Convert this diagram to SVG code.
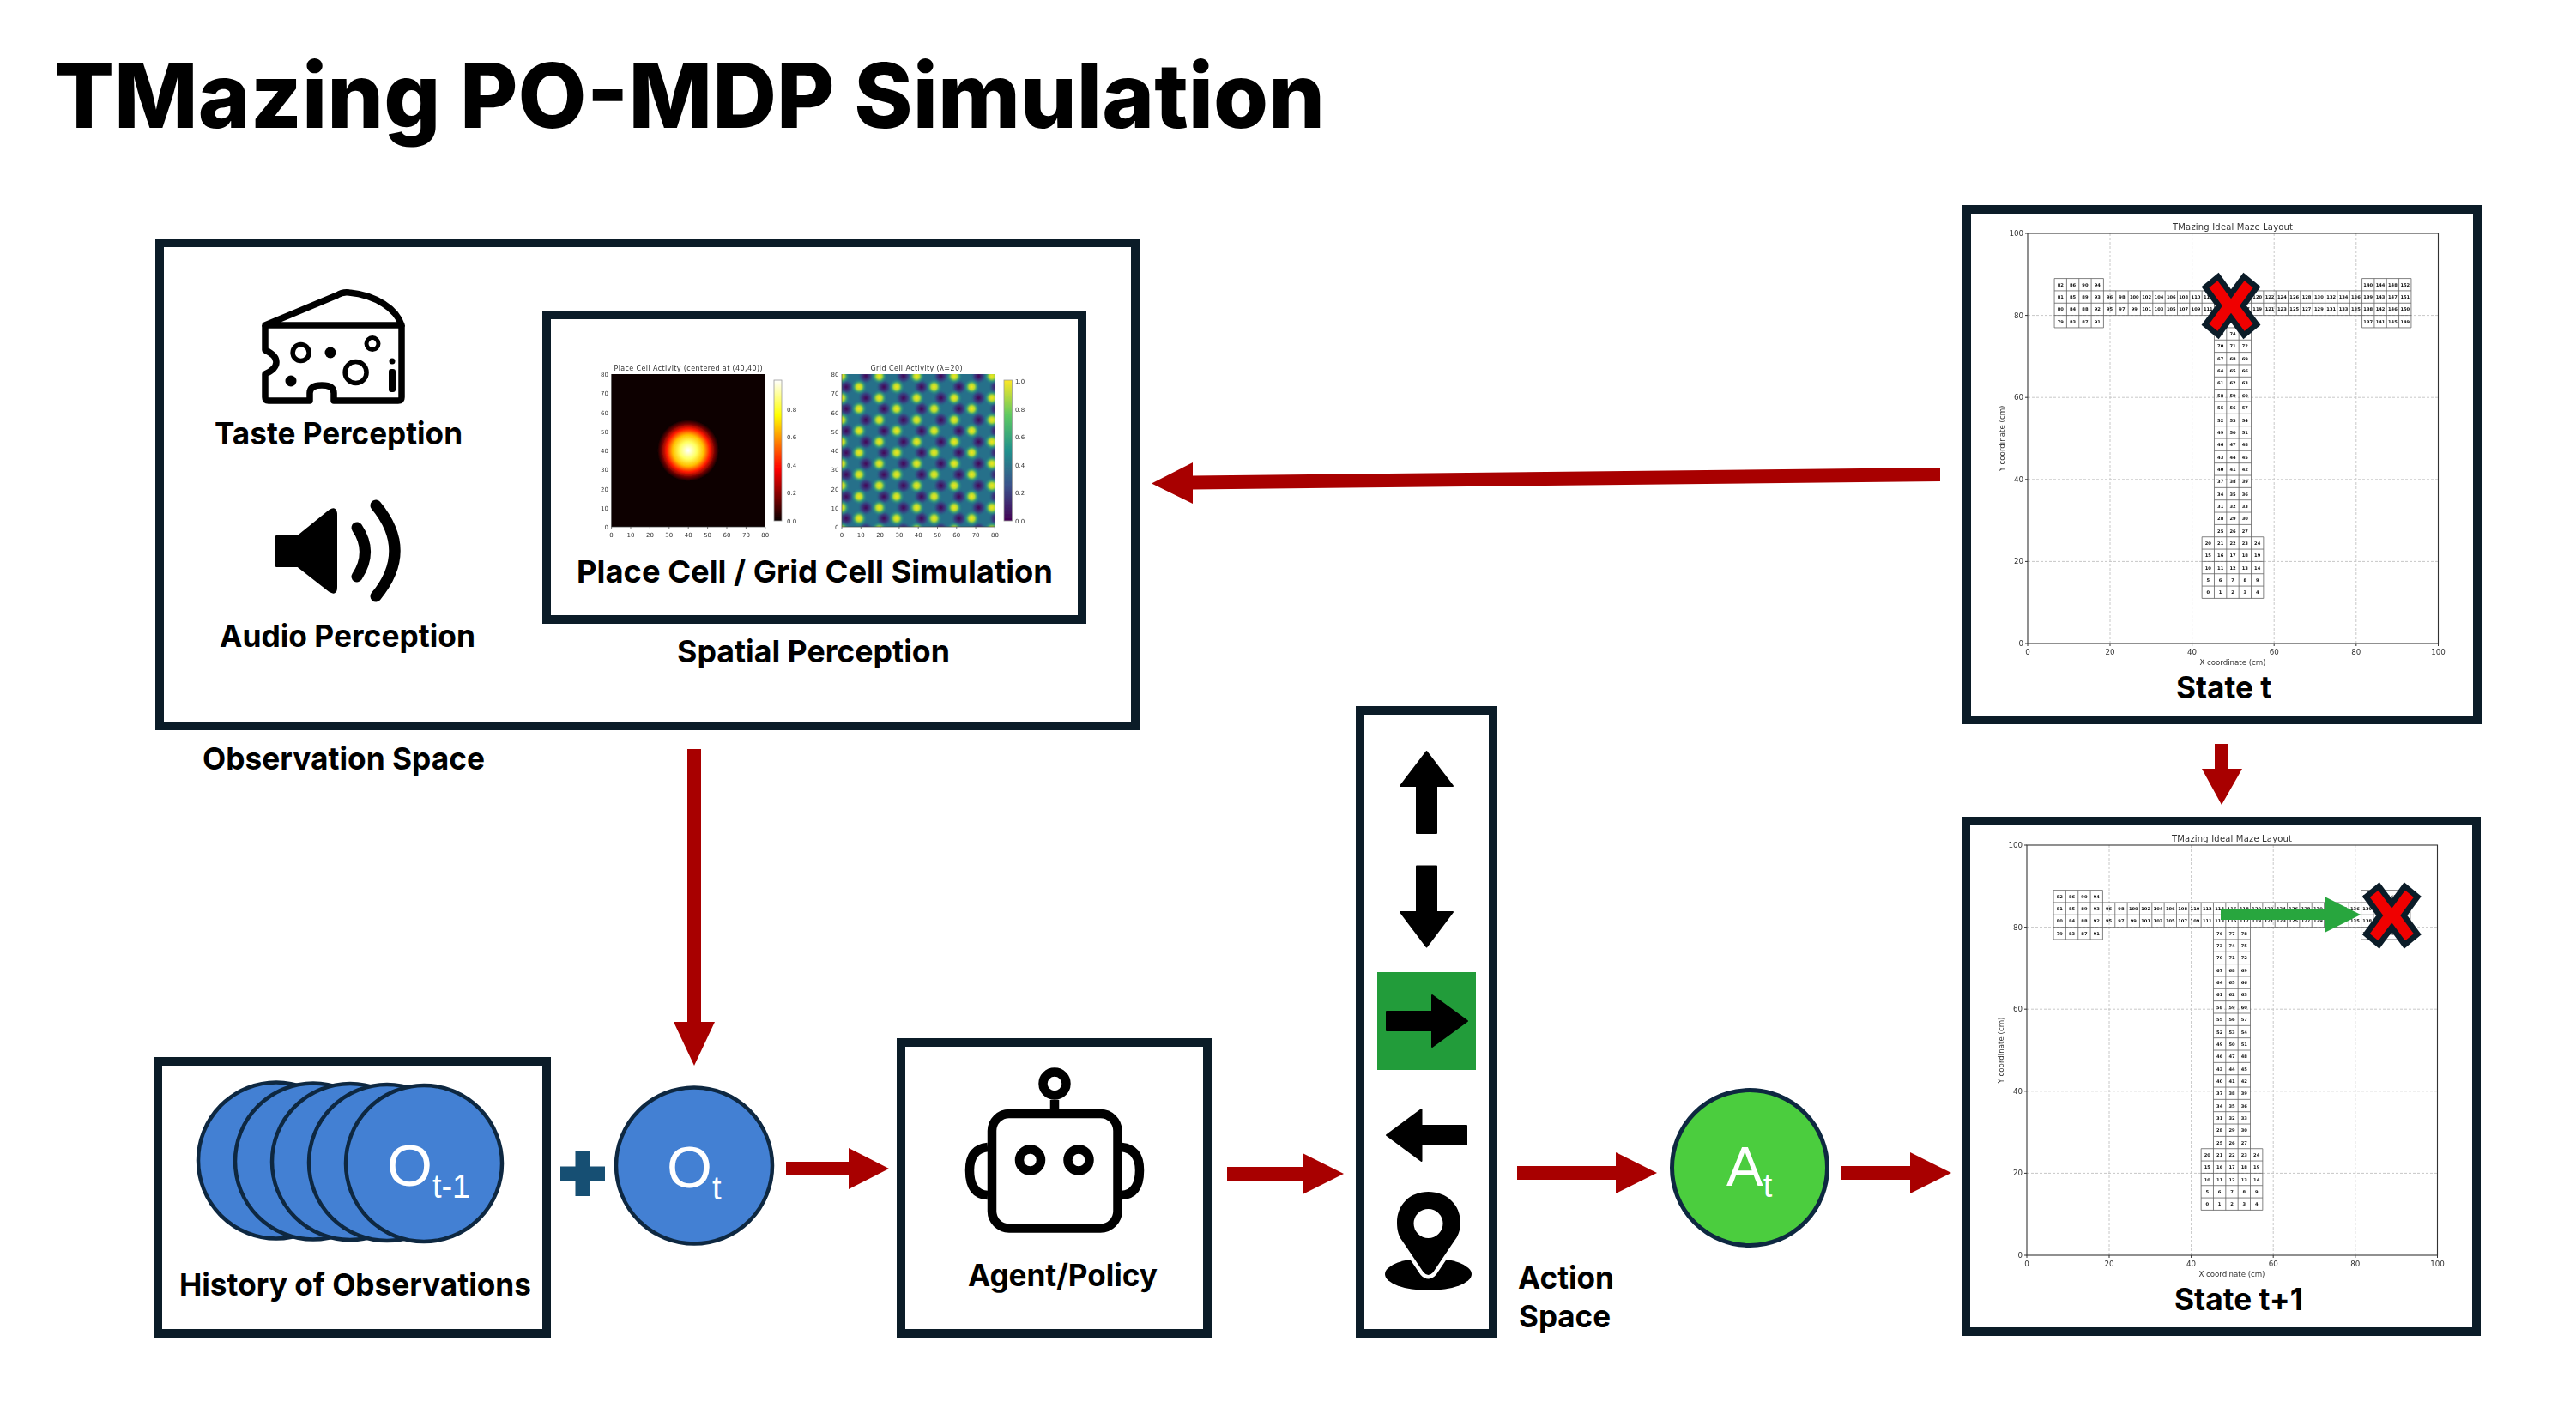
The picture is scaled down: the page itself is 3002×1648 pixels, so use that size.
<svg xmlns="http://www.w3.org/2000/svg" xmlns:xlink="http://www.w3.org/1999/xlink" width="3002" height="1648" viewBox="0 0 3002 1648">
<style>
text{font-family:"Inter","Liberation Sans",sans-serif;fill:#000}
.lbl{font-weight:700;font-size:36px}
.box{fill:#fff;stroke:#0b1c28;stroke-width:10}
.big{fill:#fff;font-family:"Liberation Sans",Arial,sans-serif;font-size:68px}
.obs{fill:#4380d3;stroke:#0e2841;stroke-width:4.5}
.con{fill:#a80000}
.xm{fill:#f00000;stroke:#0b1c28;stroke-width:6.5;stroke-linejoin:miter}
.icon{fill:#000;stroke:#000;stroke-width:2;stroke-linejoin:round}
.rob{fill:none;stroke:#000;stroke-width:10.5}
.t7 text{font-family:"DejaVu Sans",sans-serif;font-size:7px;fill:#333}
.t9 text{font-family:"DejaVu Sans",sans-serif;font-size:8.7px;fill:#333}
.cell text{font-family:"DejaVu Sans",sans-serif;font-weight:700;font-size:1.08px;text-anchor:middle;dominant-baseline:central;fill:#111}
.s{text-anchor:end}.m{text-anchor:middle}
</style>
<defs>
<filter id="soft" x="-5%" y="-5%" width="110%" height="110%"><feGaussianBlur stdDeviation="0.45"/></filter>
<radialGradient id="hotspot"><stop offset="0" stop-color="#fff"/><stop offset=".28" stop-color="#ffff60"/><stop offset=".5" stop-color="#ffc000"/><stop offset=".7" stop-color="#ff1800"/><stop offset=".88" stop-color="#600000"/><stop offset="1" stop-color="#0a0000"/></radialGradient>
<linearGradient id="hotbar" x1="0" y1="1" x2="0" y2="0"><stop offset="0" stop-color="#0a0000"/><stop offset=".37" stop-color="#ff0000"/><stop offset=".75" stop-color="#ffff00"/><stop offset="1" stop-color="#fff"/></linearGradient>
<linearGradient id="virbar" x1="0" y1="1" x2="0" y2="0"><stop offset="0" stop-color="#440154"/><stop offset=".25" stop-color="#3b528b"/><stop offset=".5" stop-color="#21918c"/><stop offset=".75" stop-color="#5ec962"/><stop offset="1" stop-color="#fde725"/></linearGradient>
<radialGradient id="bright"><stop offset="0" stop-color="#f5e51f"/><stop offset=".35" stop-color="#b5dc30"/><stop offset=".65" stop-color="#35a078" stop-opacity=".75"/><stop offset="1" stop-color="#26708a" stop-opacity="0"/></radialGradient>
<radialGradient id="dark"><stop offset="0" stop-color="#440154"/><stop offset=".55" stop-color="#3a3a80" stop-opacity=".85"/><stop offset="1" stop-color="#26708a" stop-opacity="0"/></radialGradient>
<pattern id="gridcells" patternUnits="userSpaceOnUse" x="980.7" y="438.3" width="43.8" height="25.55">
<rect width="43.8" height="25.55" fill="#26708a"/>
<circle cx="28.3" cy="0" r="9.500" fill="url(#dark)"/><circle cx="28.3" cy="25.55" r="9.500" fill="url(#dark)"/>
<circle cx="5.5" cy="12.7" r="9.500" fill="url(#dark)"/><circle cx="49.3" cy="12.7" r="9.500" fill="url(#dark)"/>
<circle cx="0" cy="0" r="9.500" fill="url(#bright)"/><circle cx="43.8" cy="0" r="9.500" fill="url(#bright)"/><circle cx="0" cy="25.55" r="9.500" fill="url(#bright)"/><circle cx="43.8" cy="25.55" r="9.500" fill="url(#bright)"/>
<circle cx="20.3" cy="12.6" r="9.500" fill="url(#bright)"/>
</pattern>
<polygon id="cross" class="xm" points="-30,-21.7 -15,-34 0,-13.7 15,-34 30,-21.7 14,0 30,21.7 15,34 0,13.7 -15,34 -30,21.7 -14,0"/>
<g id="mazePlot" filter="url(#soft)">
<path d="M2459 272V750M2554.6 272V750M2650.2 272V750M2745.8 272V750M2363 654.4H2841.5M2363 558.8H2841.5M2363 463.2H2841.5M2363 367.6H2841.5" fill="none" stroke="#c8c8c8" stroke-width="1" stroke-dasharray="3 2"/>
<g class="cell" transform="translate(2363 750) scale(4.78)">
<path fill="none" stroke="#666" stroke-width=".17" d="M42.5-11H57.5M42.5-14H57.5M42.5-17H57.5M42.5-20H57.5M42.5-23H57.5M42.5-26H57.5M42.5-11V-26M45.5-11V-80M48.5-11V-80M51.5-11V-80M54.5-11V-80M57.5-11V-26M45.5-29H54.5M45.5-32H54.5M45.5-35H54.5M45.5-38H54.5M45.5-41H54.5M45.5-44H54.5M45.5-47H54.5M45.5-50H54.5M45.5-53H54.5M45.5-56H54.5M45.5-59H54.5M45.5-62H54.5M45.5-65H54.5M45.5-68H54.5M45.5-71H54.5M45.5-74H54.5M45.5-77H54.5M6.5-80H93.5M6.5-83H93.5M6.5-86H93.5M6.5-77H18.5M6.5-89H18.5M81.5-77H93.5M81.5-89H93.5M6.5-77V-89M9.5-77V-89M12.5-77V-89M15.5-77V-89M18.5-77V-89M81.5-77V-89M84.5-77V-89M87.5-77V-89M90.5-77V-89M93.5-77V-89M21.5-80V-86M24.5-80V-86M27.5-80V-86M30.5-80V-86M33.5-80V-86M36.5-80V-86M39.5-80V-86M42.5-80V-86M45.5-80V-86M48.5-80V-86M51.5-80V-86M54.5-80V-86M57.5-80V-86M60.5-80V-86M63.5-80V-86M66.5-80V-86M69.5-80V-86M72.5-80V-86M75.5-80V-86M78.5-80V-86"/>
<text x="44" y="-12.5">0</text><text x="47" y="-12.5">1</text><text x="50" y="-12.5">2</text><text x="53" y="-12.5">3</text><text x="56" y="-12.5">4</text>
<text x="44" y="-15.5">5</text><text x="47" y="-15.5">6</text><text x="50" y="-15.5">7</text><text x="53" y="-15.5">8</text><text x="56" y="-15.5">9</text>
<text x="44" y="-18.5">10</text><text x="47" y="-18.5">11</text><text x="50" y="-18.5">12</text><text x="53" y="-18.5">13</text><text x="56" y="-18.5">14</text>
<text x="44" y="-21.5">15</text><text x="47" y="-21.5">16</text><text x="50" y="-21.5">17</text><text x="53" y="-21.5">18</text><text x="56" y="-21.5">19</text>
<text x="44" y="-24.5">20</text><text x="47" y="-24.5">21</text><text x="50" y="-24.5">22</text><text x="53" y="-24.5">23</text><text x="56" y="-24.5">24</text>
<text x="47" y="-27.5">25</text><text x="50" y="-27.5">26</text><text x="53" y="-27.5">27</text>
<text x="47" y="-30.5">28</text><text x="50" y="-30.5">29</text><text x="53" y="-30.5">30</text>
<text x="47" y="-33.5">31</text><text x="50" y="-33.5">32</text><text x="53" y="-33.5">33</text>
<text x="47" y="-36.5">34</text><text x="50" y="-36.5">35</text><text x="53" y="-36.5">36</text>
<text x="47" y="-39.5">37</text><text x="50" y="-39.5">38</text><text x="53" y="-39.5">39</text>
<text x="47" y="-42.5">40</text><text x="50" y="-42.5">41</text><text x="53" y="-42.5">42</text>
<text x="47" y="-45.5">43</text><text x="50" y="-45.5">44</text><text x="53" y="-45.5">45</text>
<text x="47" y="-48.5">46</text><text x="50" y="-48.5">47</text><text x="53" y="-48.5">48</text>
<text x="47" y="-51.5">49</text><text x="50" y="-51.5">50</text><text x="53" y="-51.5">51</text>
<text x="47" y="-54.5">52</text><text x="50" y="-54.5">53</text><text x="53" y="-54.5">54</text>
<text x="47" y="-57.5">55</text><text x="50" y="-57.5">56</text><text x="53" y="-57.5">57</text>
<text x="47" y="-60.5">58</text><text x="50" y="-60.5">59</text><text x="53" y="-60.5">60</text>
<text x="47" y="-63.5">61</text><text x="50" y="-63.5">62</text><text x="53" y="-63.5">63</text>
<text x="47" y="-66.5">64</text><text x="50" y="-66.5">65</text><text x="53" y="-66.5">66</text>
<text x="47" y="-69.5">67</text><text x="50" y="-69.5">68</text><text x="53" y="-69.5">69</text>
<text x="47" y="-72.5">70</text><text x="50" y="-72.5">71</text><text x="53" y="-72.5">72</text>
<text x="47" y="-75.5">73</text><text x="50" y="-75.5">74</text><text x="53" y="-75.5">75</text>
<text x="47" y="-78.5">76</text><text x="50" y="-78.5">77</text><text x="53" y="-78.5">78</text>
<text x="8" y="-78.5">79</text><text x="8" y="-81.5">80</text><text x="8" y="-84.5">81</text><text x="8" y="-87.5">82</text>
<text x="11" y="-78.5">83</text><text x="11" y="-81.5">84</text><text x="11" y="-84.5">85</text><text x="11" y="-87.5">86</text>
<text x="14" y="-78.5">87</text><text x="14" y="-81.5">88</text><text x="14" y="-84.5">89</text><text x="14" y="-87.5">90</text>
<text x="17" y="-78.5">91</text><text x="17" y="-81.5">92</text><text x="17" y="-84.5">93</text><text x="17" y="-87.5">94</text>
<text x="20" y="-81.5">95</text><text x="20" y="-84.5">96</text><text x="23" y="-81.5">97</text><text x="23" y="-84.5">98</text>
<text x="26" y="-81.5">99</text><text x="26" y="-84.5">100</text><text x="29" y="-81.5">101</text><text x="29" y="-84.5">102</text>
<text x="32" y="-81.5">103</text><text x="32" y="-84.5">104</text><text x="35" y="-81.5">105</text><text x="35" y="-84.5">106</text>
<text x="38" y="-81.5">107</text><text x="38" y="-84.5">108</text><text x="41" y="-81.5">109</text><text x="41" y="-84.5">110</text>
<text x="44" y="-81.5">111</text><text x="44" y="-84.5">112</text><text x="47" y="-81.5">113</text><text x="47" y="-84.5">114</text>
<text x="50" y="-81.5">115</text><text x="50" y="-84.5">116</text><text x="53" y="-81.5">117</text><text x="53" y="-84.5">118</text>
<text x="56" y="-81.5">119</text><text x="56" y="-84.5">120</text><text x="59" y="-81.5">121</text><text x="59" y="-84.5">122</text>
<text x="62" y="-81.5">123</text><text x="62" y="-84.5">124</text><text x="65" y="-81.5">125</text><text x="65" y="-84.5">126</text>
<text x="68" y="-81.5">127</text><text x="68" y="-84.5">128</text><text x="71" y="-81.5">129</text><text x="71" y="-84.5">130</text>
<text x="74" y="-81.5">131</text><text x="74" y="-84.5">132</text><text x="77" y="-81.5">133</text><text x="77" y="-84.5">134</text>
<text x="80" y="-81.5">135</text><text x="80" y="-84.5">136</text>
<text x="83" y="-78.5">137</text><text x="83" y="-81.5">138</text><text x="83" y="-84.5">139</text><text x="83" y="-87.5">140</text>
<text x="86" y="-78.5">141</text><text x="86" y="-81.5">142</text><text x="86" y="-84.5">143</text><text x="86" y="-87.5">144</text>
<text x="89" y="-78.5">145</text><text x="89" y="-81.5">146</text><text x="89" y="-84.5">147</text><text x="89" y="-87.5">148</text>
<text x="92" y="-78.5">149</text><text x="92" y="-81.5">150</text><text x="92" y="-84.5">151</text><text x="92" y="-87.5">152</text>
</g>
<rect x="2363" y="272" width="478.5" height="478" fill="none" stroke="#333" stroke-width="1.1"/>
<path d="M2363 750v3M2459 750v3M2554.6 750v3M2650.2 750v3M2745.8 750v3M2841.5 750v3M2363 750h-3M2363 654.4h-3M2363 558.8h-3M2363 463.2h-3M2363 367.6h-3M2363 272h-3" stroke="#333" fill="none"/>
<g class="t9">
<text class="m" x="2602" y="267.500" style="font-size:10px" textLength="140">TMazing Ideal Maze Layout</text>
<text class="m" x="2363" y="763">0</text><text class="m" x="2459" y="763">20</text><text class="m" x="2554.6" y="763">40</text><text class="m" x="2650.2" y="763">60</text><text class="m" x="2745.8" y="763">80</text><text class="m" x="2841.5" y="763">100</text>
<text class="s" x="2358" y="753">0</text><text class="s" x="2358" y="657.4">20</text><text class="s" x="2358" y="561.8">40</text><text class="s" x="2358" y="466.2">60</text><text class="s" x="2358" y="370.6">80</text><text class="s" x="2358" y="275">100</text>
<text class="m" x="2602" y="774.500" textLength="77">X coordinate (cm)</text>
<text class="m" transform="translate(2336 511) rotate(-90)" textLength="77">Y coordinate (cm)</text>
</g>
</g>
</defs>
<rect width="3002" height="1648" fill="#fff"/>
<g id="title"><text x="63" y="149" font-size="105" font-weight="800" textLength="1481" lengthAdjust="spacingAndGlyphs">TMazing PO-MDP Simulation</text></g>
<g id="observation-space">
<rect class="box" x="186" y="283" width="1137" height="563"/>
<text class="lbl" x="236" y="897" textLength="329" lengthAdjust="spacingAndGlyphs">Observation Space</text>
</g>
<g id="taste-perception">
<g fill="none" stroke="#000" stroke-width="7.5" stroke-linejoin="round">
<path d="M309 379L393 344Q399 340 407 341C438 344 462 360 468 379Z"/>
<path d="M309 379V408Q322 414 322 422Q322 430 309 436V463Q309 467 313 467H361V458Q361 449 375 449Q389 449 389 458V467H464Q468 467 468 463V379"/>
<circle cx="350.6" cy="411" r="9.5" stroke-width="5.5"/><circle cx="434" cy="400.6" r="7" stroke-width="5"/><circle cx="414.6" cy="434" r="12.5" stroke-width="5.5"/>
</g>
<circle cx="385" cy="411" r="6.5"/><circle cx="339" cy="444" r="6.5"/><circle cx="457" cy="421" r="3.5"/><rect x="453" y="430" width="8" height="27" rx="3"/>
<text class="lbl" x="250" y="518" textLength="289" lengthAdjust="spacingAndGlyphs">Taste Perception</text>
</g>
<g id="audio-perception">
<path class="icon" d="M322 625H347L384 595Q392 590 392 600V684Q392 694 384 689L347 660H322Z"/>
<path d="M416 615Q435 643 416 672M438 589Q482 642 438 695" fill="none" stroke="#000" stroke-width="13" stroke-linecap="round"/>
<text class="lbl" x="256" y="754" textLength="298" lengthAdjust="spacingAndGlyphs">Audio Perception</text>
</g>
<g id="spatial-perception">
<rect class="box" x="637" y="367" width="624" height="355"/>
<g filter="url(#soft)">
<rect x="712.6" y="436" width="179.4" height="178" fill="#0a0000"/>
<circle cx="802" cy="525" r="36" fill="url(#hotspot)"/>
<rect x="902" y="443" width="9" height="164" fill="url(#hotbar)" stroke="#999" stroke-width=".8"/>
<rect x="981" y="436" width="178.5" height="178" fill="url(#gridcells)"/>
<rect x="1170" y="443" width="9.5" height="164" fill="url(#virbar)" stroke="#999" stroke-width=".8"/>
<g class="t7">
<text class="m" x="802" y="432" style="font-size:8px" textLength="173">Place Cell Activity (centered at (40,40))</text>
<text class="m" x="1068" y="432" style="font-size:8px" textLength="107">Grid Cell Activity (λ=20)</text>
<text class="m" x="712.6" y="626">0</text><text class="m" x="735" y="626">10</text><text class="m" x="757.4" y="626">20</text><text class="m" x="779.8" y="626">30</text><text class="m" x="802.2" y="626">40</text><text class="m" x="824.6" y="626">50</text><text class="m" x="847" y="626">60</text><text class="m" x="869.4" y="626">70</text><text class="m" x="891.8" y="626">80</text>
<text class="s" x="709" y="617">0</text><text class="s" x="709" y="594.7">10</text><text class="s" x="709" y="572.5">20</text><text class="s" x="709" y="550.2">30</text><text class="s" x="709" y="528">40</text><text class="s" x="709" y="505.7">50</text><text class="s" x="709" y="483.5">60</text><text class="s" x="709" y="461.2">70</text><text class="s" x="709" y="439">80</text>
<text x="917" y="609.5">0.0</text><text x="917" y="577">0.2</text><text x="917" y="544.5">0.4</text><text x="917" y="512">0.6</text><text x="917" y="479.5">0.8</text>
<text class="m" x="981" y="626">0</text><text class="m" x="1003.3" y="626">10</text><text class="m" x="1025.6" y="626">20</text><text class="m" x="1047.9" y="626">30</text><text class="m" x="1070.2" y="626">40</text><text class="m" x="1092.5" y="626">50</text><text class="m" x="1114.8" y="626">60</text><text class="m" x="1137.1" y="626">70</text><text class="m" x="1159.4" y="626">80</text>
<text class="s" x="977.5" y="617">0</text><text class="s" x="977.5" y="594.7">10</text><text class="s" x="977.5" y="572.5">20</text><text class="s" x="977.5" y="550.2">30</text><text class="s" x="977.5" y="528">40</text><text class="s" x="977.5" y="505.7">50</text><text class="s" x="977.5" y="483.5">60</text><text class="s" x="977.5" y="461.2">70</text><text class="s" x="977.5" y="439">80</text>
<text x="1183" y="609.5">0.0</text><text x="1183" y="577">0.2</text><text x="1183" y="544.5">0.4</text><text x="1183" y="512">0.6</text><text x="1183" y="479.5">0.8</text><text x="1183" y="447">1.0</text>
</g>
<path d="M712.6 436V614H892M712.6 614v2M735 614v2M757.4 614v2M779.8 614v2M802.2 614v2M824.6 614v2M847 614v2M869.4 614v2M891.8 614v2M981 436V614H1159.5M981 614v2M1003.3 614v2M1025.6 614v2M1047.9 614v2M1070.2 614v2M1092.5 614v2M1114.8 614v2M1137.1 614v2M1159.4 614v2" fill="none" stroke="#444" stroke-width=".7"/>
</g>
<text class="lbl" x="672" y="679" textLength="555" lengthAdjust="spacingAndGlyphs">Place Cell / Grid Cell Simulation</text>
<text class="lbl" x="789" y="772" textLength="318" lengthAdjust="spacingAndGlyphs">Spatial Perception</text>
</g>
<g id="state-t">
<rect class="box" x="2292" y="244" width="595" height="595"/>
<use href="#mazePlot"/>
<use href="#cross" x="2600" y="356.5"/>
<text class="lbl" x="2536" y="814" textLength="111" lengthAdjust="spacingAndGlyphs">State t</text>
</g>
<g id="state-t1">
<rect class="box" x="2291" y="957" width="595" height="595"/>
<use href="#mazePlot" transform="translate(-1 713)"/>
<polygon points="2588,1059 2709,1059 2709,1045 2751,1066 2709,1087 2709,1072 2588,1072" fill="#28a63e"/>
<use href="#cross" x="2787.3" y="1067"/>
<text class="lbl" x="2534" y="1527" textLength="150" lengthAdjust="spacingAndGlyphs">State t+1</text>
</g>
<g id="history">
<rect class="box" x="184" y="1237" width="453" height="317"/>
<circle class="obs" cx="322" cy="1352.5" r="91"/><circle class="obs" cx="365" cy="1353.5" r="91"/><circle class="obs" cx="408" cy="1354" r="91"/><circle class="obs" cx="451" cy="1355" r="91"/><circle class="obs" cx="494" cy="1356" r="91"/>
<text class="big" x="451" y="1382">O<tspan dy="14" font-size="38">t-1</tspan></text>
<text class="lbl" x="209" y="1510" textLength="410" lengthAdjust="spacingAndGlyphs">History of Observations</text>
</g>
<g id="plus"><path d="M670.5 1342h17v17.500h17.500v17h-17.500v17.500h-17v-17.500h-17.500v-17h17.500z" fill="#164f73"/></g>
<g id="observation-t">
<circle class="obs" cx="809" cy="1358.500" r="91"/>
<text class="big" x="777" y="1384">O<tspan dy="14" font-size="38">t</tspan></text>
</g>
<g id="agent">
<rect class="box" x="1050" y="1215" width="357" height="339"/>
<rect class="rob" x="1156" y="1298" width="146.500" height="133.500" rx="20"/>
<path class="rob" d="M1151 1337Q1130 1339 1130 1364Q1130 1392 1151 1393M1307 1337Q1328 1339 1328 1364Q1328 1392 1307 1393M1229 1282V1294"/>
<circle class="rob" cx="1229" cy="1263" r="13.500"/><circle class="rob" cx="1200.500" cy="1352" r="12.500"/><circle class="rob" cx="1257" cy="1352" r="12.500"/>
<text class="lbl" x="1128" y="1499" textLength="221" lengthAdjust="spacingAndGlyphs">Agent/Policy</text>
</g>
<g id="action-space">
<rect class="box" x="1585" y="828" width="155" height="726"/>
<polygon class="icon" points="1662.5,876 1693,916 1674,916 1674,971 1651,971 1651,916 1632,916"/>
<polygon class="icon" points="1662.500,1103.500 1693,1063 1674,1063 1674,1009.500 1651,1009.500 1651,1063 1632,1063"/>
<rect x="1605" y="1133" width="115" height="114" fill="#229c3a"/>
<polygon class="icon" points="1710,1190 1669,1160 1669,1179 1616,1179 1616,1201 1669,1201 1669,1220"/>
<polygon class="icon" points="1616,1323 1656.500,1293 1656.500,1312 1709,1312 1709,1334 1656.500,1334 1656.500,1353"/>
<ellipse cx="1664.500" cy="1485" rx="50.500" ry="19"/>
<path d="M1664.500 1389C1686 1389 1702 1404 1702 1425C1702 1434 1699 1441 1695 1446L1670 1483Q1664.500 1489 1659 1483L1634 1446C1630 1441 1628 1434 1628 1425C1628 1404 1643 1389 1664.500 1389Z" fill="#000" stroke="#fff" stroke-width="9" paint-order="stroke"/>
<circle cx="1664.500" cy="1426" r="17" fill="#fff"/>
<text class="lbl" x="1769" y="1502" textLength="112" lengthAdjust="spacingAndGlyphs">Action</text>
<text class="lbl" x="1770" y="1547" textLength="107" lengthAdjust="spacingAndGlyphs">Space</text>
</g>
<g id="action-t">
<circle cx="2039" cy="1361" r="90.500" fill="#4bcd3e" stroke="#0e2841" stroke-width="5"/>
<text class="big" x="2012" y="1382" style="font-size:64px">A<tspan dy="13" font-size="38">t</tspan></text>
</g>
<g id="connectors">
<polygon class="con" points="1342,563.500 1390,539 1390,554.500 2261,545 2261,561 1390,570.500 1390,587"/>
<polygon class="con" points="2581,867 2597,867 2597,896 2613,896 2589,938 2566,896 2581,896"/>
<polygon class="con" points="801,873 817,873 817,1191 833,1191 809,1242 785,1191 801,1191"/>
<polygon class="con" points="916,1354 989,1354 989,1338 1036,1362 989,1386 989,1370 916,1370"/>
<polygon class="con" points="1430,1360 1518,1360 1518,1344 1566,1368 1518,1392 1518,1376 1430,1376"/>
<polygon class="con" points="1768,1359 1883,1359 1883,1343 1931,1367 1883,1391 1883,1375 1768,1375"/>
<polygon class="con" points="2145,1359 2226,1359 2226,1343 2274,1367 2226,1391 2226,1375 2145,1375"/>
</g>
</svg>
